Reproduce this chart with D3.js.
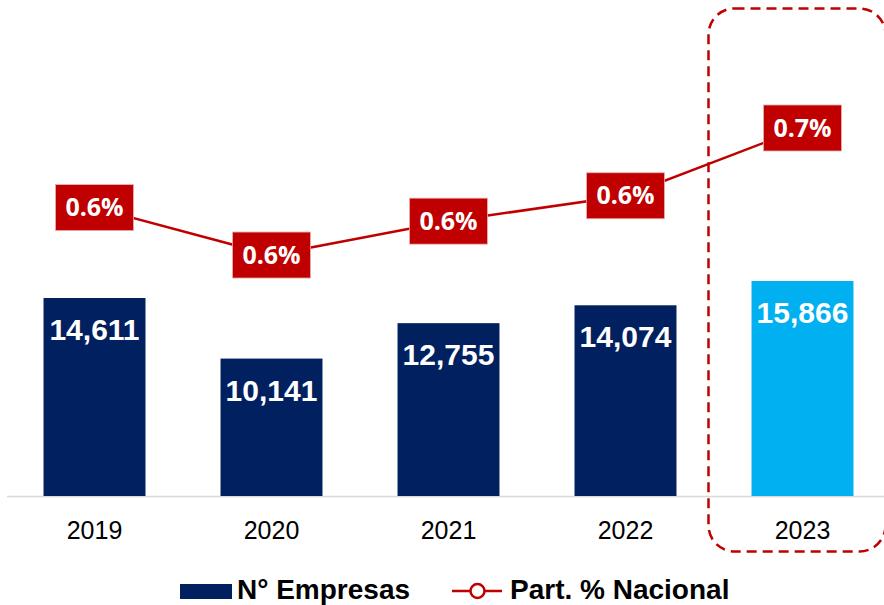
<!DOCTYPE html>
<html><head><meta charset="utf-8">
<script src="https://cdn.jsdelivr.net/npm/d3@7"></script>
<style>body{margin:0;background:#fff}svg{display:block}</style>
</head><body><svg id="c" width="884" height="605"></svg>
<script>
const years = ["2019","2020","2021","2022","2023"];
const empresas = [14611, 10141, 12755, 14074, 15866];
const partNacional = [0.606, 0.550, 0.590, 0.620, 0.700];
const pctLabels = ["0.6%","0.6%","0.6%","0.6%","0.7%"];
const legendLabels = ["N° Empresas","Part. % Nacional"];

(function () {
const svg = d3.select("#c");
const navy = "#002060", sky = "#00b0f0", red = "#c00000";
const base = 496, plotTop = 20;

const x = d3.scaleBand().domain(years).range([6, 891]).paddingInner(0.424).paddingOuter(0.212);
const y = d3.scaleLinear().domain([0, 35127]).range([base, plotTop]);
const y2 = d3.scaleLinear().domain([0.2655, 0.8275]).range([base, plotTop]);

// baseline axis
svg.append("line").attr("x1", 7).attr("x2", 884).attr("y1", base + 0.5).attr("y2", base + 0.5)
  .attr("stroke", "#d9d9d9").attr("stroke-width", 1.5);

const xAxis = svg.append("g").attr("transform", `translate(0,${base})`)
  .call(d3.axisBottom(x).tickSize(0).tickPadding(25));
xAxis.select(".domain").remove();
xAxis.attr("font-size", 25).attr("font-family", "Liberation Sans, Arial, sans-serif");
xAxis.selectAll("text").attr("font-family", "Liberation Sans, Arial, sans-serif")
  .attr("font-size", 25).attr("fill", "#000");

// bars
svg.selectAll("rect.bar").data(years).join("rect").attr("class", "bar")
  .attr("x", d => x(d)).attr("width", x.bandwidth())
  .attr("y", (d, i) => y(empresas[i])).attr("height", (d, i) => base - y(empresas[i]))
  .attr("fill", (d, i) => i === 4 ? sky : navy);

svg.selectAll("text.bl").data(years).join("text").attr("class", "bl")
  .attr("x", d => x(d) + x.bandwidth() / 2)
  .attr("y", (d, i) => y(empresas[i]) + 42)
  .attr("text-anchor", "middle").attr("fill", "#fff")
  .attr("font-family", "Liberation Sans, Arial, sans-serif").attr("font-weight", "bold")
  .attr("font-size", 30)
  .text((d, i) => d3.format(",")(empresas[i]));

// line
const line = d3.line().x((d, i) => x(years[i]) + x.bandwidth() / 2).y(d => y2(d));
svg.append("path").datum(partNacional).attr("d", line)
  .attr("fill", "none").attr("stroke", red).attr("stroke-width", 2.5);

const lw = 78, lh = 46;
const lg = svg.selectAll("g.pl").data(years).join("g").attr("class", "pl")
  .attr("transform", (d, i) => `translate(${x(d) + x.bandwidth() / 2},${y2(partNacional[i])})`);
lg.append("rect").attr("x", -lw / 2).attr("y", -lh / 2).attr("width", lw).attr("height", lh)
  .attr("fill", red).attr("stroke", "#e8b0b0").attr("stroke-width", 0.8);
lg.append("text").attr("text-anchor", "middle").attr("dy", "0.35em").attr("fill", "#fff")
  .attr("font-family", "Open Sans, sans-serif").attr("font-weight", "bold").attr("font-size", 25)
  .text((d, i) => pctLabels[i]);

// dashed highlight box
svg.append("rect").attr("x", 708.5).attr("y", 8.5).attr("width", 177).attr("height", 543)
  .attr("rx", 26).attr("ry", 26).attr("fill", "none").attr("stroke", red)
  .attr("stroke-width", 2.5).attr("stroke-dasharray", "10,6");

// legend
const leg = svg.append("g");
leg.append("rect").attr("x", 180).attr("y", 584).attr("width", 52).attr("height", 15).attr("fill", navy);
leg.append("text").attr("x", 237).attr("y", 599).text(legendLabels[0])
  .attr("font-family", "Liberation Sans, Arial, sans-serif").attr("font-weight", "bold").attr("font-size", 28);
leg.append("line").attr("x1", 452).attr("x2", 502).attr("y1", 591).attr("y2", 591)
  .attr("stroke", red).attr("stroke-width", 2.5);
leg.append("circle").attr("cx", 477.5).attr("cy", 591).attr("r", 7).attr("fill", "#fff")
  .attr("stroke", red).attr("stroke-width", 2.5);
leg.append("text").attr("x", 510).attr("y", 599).text(legendLabels[1])
  .attr("font-family", "Liberation Sans, Arial, sans-serif").attr("font-weight", "bold").attr("font-size", 28);
})();
</script></body></html>
